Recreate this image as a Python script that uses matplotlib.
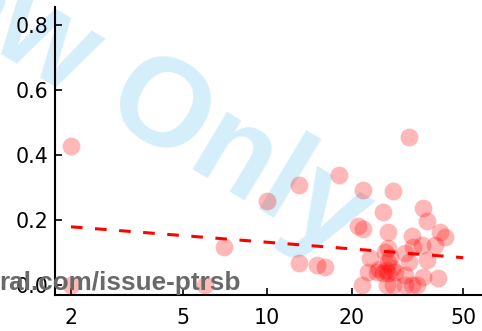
import numpy as np
import matplotlib
matplotlib.use("Agg")
import matplotlib.pyplot as plt

# Observations: body size (x, log scale) vs. proportion (y)
size = [2.0, 2.0, 6.0, 7.0, 10.0, 13.0, 13.0, 15.0, 16.1, 18.0,
        22.0, 32.1, 28.0, 25.9, 21.1, 22.0, 27.0, 36.0, 37.0, 32.9,
        41.3, 43.0, 39.6, 35.5, 33.2, 31.0, 27.0, 23.3, 27.0, 31.9,
        37.0, 22.9, 24.6, 25.9, 27.0, 27.8, 31.0, 36.0, 40.7, 21.7,
        26.7, 28.2, 32.8, 34.1, 31.0, 27.4, 25.0, 26.5, 28.5, 26.3]
prop = [0.428, 0.0, 0.0, 0.118, 0.259, 0.308, 0.067, 0.062, 0.056, 0.338,
        0.291, 0.456, 0.289, 0.226, 0.182, 0.171, 0.162, 0.238, 0.197, 0.152,
        0.164, 0.149, 0.123, 0.123, 0.118, 0.098, 0.113, 0.082, 0.072, 0.072,
        0.077, 0.041, 0.041, 0.036, 0.036, 0.051, 0.031, 0.026, 0.022, 0.0,
        0.0, 0.0, 0.0, 0.0, 0.0, 0.087, 0.050, 0.045, 0.040, 0.100]

# Fitted trend: prop = a + b * log10(size)
fit_intercept = 0.1995
fit_slope = -0.068
fit_range = [2.0, 50.0]

xticks = [2, 5, 10, 20, 50]
xticklabels = ["2", "5", "10", "20", "50"]
yticks = [0.0, 0.2, 0.4, 0.6, 0.8]
yticklabels = ["0.0", "0.2", "0.4", "0.6", "0.8"]

plt.rcParams["font.family"] = ["Liberation Sans", "DejaVu Sans"]

W, H = 482, 331
fig = plt.figure(figsize=(W / 100, H / 100), dpi=100)
ax = fig.add_axes([55 / W, (H - 295) / H, (W - 55) / W, (295 - 7) / H])
ax.set_facecolor("none")

# Watermark behind the plot
fig.text(83 / W, 1 - 104 / H, "View Only", rotation=-31, rotation_mode="anchor",
         ha="center", va="baseline", fontsize=91, fontweight="bold",
         color="#d4eefa", zorder=-1)

ax.scatter(size, prop, s=165, color="red", alpha=0.28, linewidths=0, zorder=3)

xf = np.array(fit_range)
yf = fit_intercept + fit_slope * np.log10(xf)
ax.plot(xf, yf, color="red", linewidth=2.2, linestyle=(0, (3.8, 4.1)), zorder=4)

ax.set_xscale("log")
ax.set_xlim(1.754, 58.3)
ax.set_ylim(-0.0308, 0.855)
ax.set_xticks(xticks)
ax.set_xticklabels(xticklabels)
ax.xaxis.set_minor_locator(matplotlib.ticker.NullLocator())
ax.set_yticks(yticks)
ax.set_yticklabels(yticklabels)

for side in ("top", "right"):
    ax.spines[side].set_visible(False)
for side in ("left", "bottom"):
    ax.spines[side].set_linewidth(1.5)
ax.tick_params(direction="in", length=5, width=1.2, labelsize=14.8, colors="black")
ax.tick_params(axis="x", pad=9)
ax.tick_params(axis="y", pad=5)
for lab in ax.get_xticklabels() + ax.get_yticklabels():
    lab.set_family("DejaVu Sans")

fig.text(-1 / W, (H - 290) / H, "ral.com/issue-ptrsb", ha="left", va="baseline",
         fontsize=18.8, fontweight="bold", color="#696969", zorder=10)

fig.savefig("out.png", dpi=100)
